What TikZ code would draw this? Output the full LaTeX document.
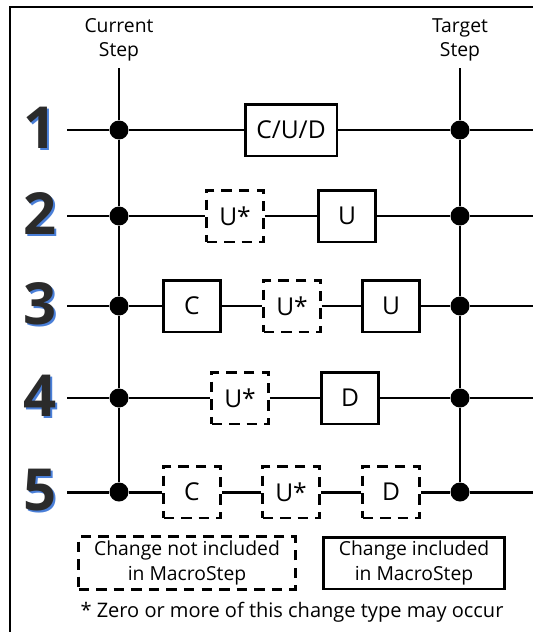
\documentclass[tikz,border=0pt]{standalone}
\usepackage{fontspec}
\setmainfont{Open Sans}
\usepackage{tikz}
\usetikzlibrary{positioning}
\definecolor{WireInk}{HTML}{000000}
\definecolor{DigitInk}{HTML}{2B2B2B}
\definecolor{DigitShade}{HTML}{4A7FD8}

\begin{document}
\begin{tikzpicture}[x=0.02cm, y=-0.02cm]
  % macrostep timelines: one wire per scenario
\tikzset{
  wire/.style={line width=1.7pt, WireInk},
  junction/.style={circle, fill=WireInk, inner sep=0pt, minimum size=0.38cm},
  change/.style={draw, line width=1.7pt, inner sep=0pt, minimum width=1.14cm,
    minimum height=1.04cm, font=\fontsize{14}{15}\selectfont},
  optchange/.style={change, dash pattern=on 6pt off 4pt},
  steplabel/.style={align=center, font=\fontsize{11}{14}\selectfont},
  rownum/.style={font=\fontsize{33}{34}\selectfont\bfseries},
}
  \useasboundingbox (0,0) rectangle (533,632);

  % frame (only top and left edges are in view)
  \draw[line width=1.7pt] (10,632) -- (10,7) -- (533,7);

  % column headings
  \node[steplabel] (curlbl) at (119,40) {Current\\Step};
  \node[steplabel] (tgtlbl) at (460,40) {Target\\Step};
  \coordinate (ctop) at (119,68);
  \coordinate (ttop) at (460,68);

  % row numbers with blue drop shade
  \foreach \k/\y in {1/130, 2/216, 3/306, 4/398, 5/492} {
    \node[rownum, DigitShade] (sh\k) at (42,\y) {\k};
    \node[rownum, DigitInk] (num\k) at (40,\y-2) {\k};
    \coordinate (s\k) at (67,\y);
    \coordinate (e\k) at (533,\y);
    \node[junction] (c\k) at (119,\y) {};
    \node[junction] (t\k) at (460,\y) {};
  }

  % Row 1
  \node[change, minimum width=1.84cm] (r1a) at (291,130) {C/U/D};
  \draw[wire] (s1) -- (c1) -- (r1a) -- (t1) -- (e1);

  % Row 2
  \node[optchange] (r2a) at (235,216) {U*};
  \node[change] (r2b) at (347,216) {U};
  \draw[wire] (s2) -- (c2) -- (r2a) -- (r2b) -- (t2) -- (e2);

  % Row 3
  \node[change] (r3a) at (192,306) {C};
  \node[optchange] (r3b) at (292,306) {U*};
  \node[change] (r3c) at (391,306) {U};
  \draw[wire] (s3) -- (c3) -- (r3a) -- (r3b) -- (r3c) -- (t3) -- (e3);

  % Row 4
  \node[optchange] (r4a) at (240,398) {U*};
  \node[change] (r4b) at (350,398) {D};
  \draw[wire] (s4) -- (c4) -- (r4a) -- (r4b) -- (t4) -- (e4);

  % Row 5
  \node[optchange] (r5a) at (192,492) {C};
  \node[optchange] (r5b) at (291,492) {U*};
  \node[optchange] (r5c) at (391,492) {D};
  \draw[wire] (s5) -- (c5) -- (r5a) -- (r5b) -- (r5c) -- (t5) -- (e5);

  % step columns
  \draw[wire] (ctop) -- (c1) -- (c2) -- (c3) -- (c4) -- (c5);
  \draw[wire] (ttop) -- (t1) -- (t2) -- (t3) -- (t4) -- (t5);

  % key
  \node[optchange, steplabel, minimum width=4.34cm, minimum height=1.06cm] (keyopt)
    at (187,563) {Change not included\\in MacroStep};
  \node[change, steplabel, minimum width=3.62cm, minimum height=1.04cm] (keyinc)
    at (414,563) {Change included\\in MacroStep};
  \node[font=\fontsize{11.4}{13}\selectfont] (note) at (292,612)
    {* Zero or more of this change type may occur};
\end{tikzpicture}
\end{document}
